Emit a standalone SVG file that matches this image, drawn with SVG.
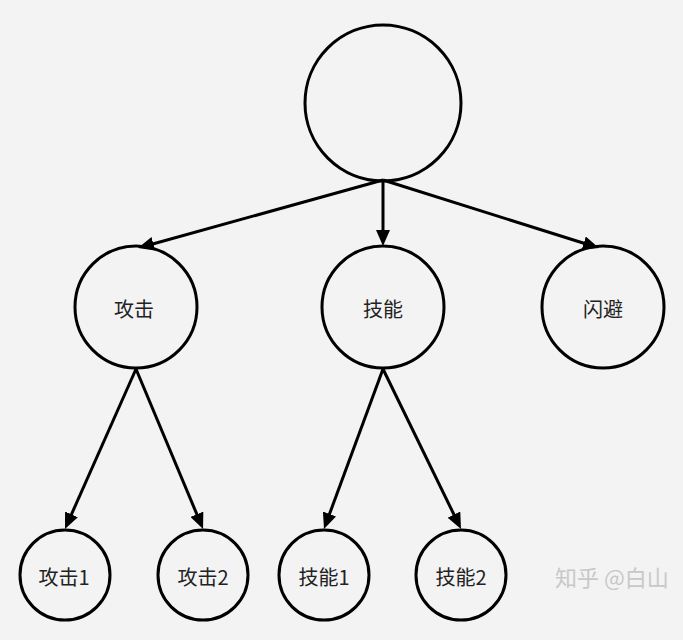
<svg xmlns="http://www.w3.org/2000/svg" width="683" height="640" viewBox="0 0 683 640">
<defs>
<style>
.node{fill:none;stroke:#000;stroke-width:3}
.edge{stroke:#000;stroke-width:3;fill:none}
.lbl{font-family:"Noto Sans CJK SC","Noto Sans",sans-serif;font-size:20px;fill:#222;text-anchor:middle;dominant-baseline:central}
.wm{font-family:"Noto Sans CJK SC","Noto Sans",sans-serif;font-size:22px;fill:#c8c8c8}
</style>
<marker id="arr" markerUnits="userSpaceOnUse" markerWidth="16" markerHeight="14" refX="11" refY="7" orient="auto">
<path d="M0,0 L16,7 L0,14 z" fill="#000"/>
</marker>
</defs>
<rect width="683" height="640" fill="#f3f3f3"/>
<g id="connectors">
<line class="edge" x1="383" y1="180" x2="142.8" y2="246.7" marker-end="url(#arr)"/>
<line class="edge" x1="383" y1="180" x2="383" y2="241" marker-end="url(#arr)"/>
<line class="edge" x1="383" y1="180" x2="594.2" y2="246.5" marker-end="url(#arr)"/>
<line class="edge" x1="136" y1="369" x2="67" y2="524.4" marker-end="url(#arr)"/>
<line class="edge" x1="136" y1="369" x2="201.1" y2="524.4" marker-end="url(#arr)"/>
<line class="edge" x1="383" y1="369" x2="325.7" y2="524.3" marker-end="url(#arr)"/>
<line class="edge" x1="383" y1="369" x2="458.8" y2="524.5" marker-end="url(#arr)"/>
</g>
<g id="root"><circle class="node" cx="383" cy="103" r="78"/></g>
<g id="attack"><circle class="node" cx="136" cy="307" r="61"/><text class="lbl" x="134" y="308">攻击</text></g>
<g id="skill"><circle class="node" cx="383" cy="307" r="61"/><text class="lbl" x="383" y="308">技能</text></g>
<g id="dodge"><circle class="node" cx="603" cy="307" r="61"/><text class="lbl" x="603" y="308">闪避</text></g>
<g id="attack1"><circle class="node" cx="65" cy="575" r="45"/><text class="lbl" x="64" y="576">攻击1</text></g>
<g id="attack2"><circle class="node" cx="203" cy="575" r="45"/><text class="lbl" x="203" y="576">攻击2</text></g>
<g id="skill1"><circle class="node" cx="324" cy="575" r="45"/><text class="lbl" x="324" y="576">技能1</text></g>
<g id="skill2"><circle class="node" cx="461" cy="575" r="45"/><text class="lbl" x="461" y="576">技能2</text></g>
<text class="wm" x="555" y="586">知乎 @白山</text>
</svg>
